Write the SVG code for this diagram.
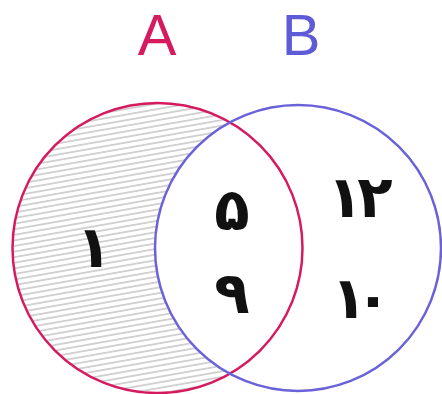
<svg xmlns="http://www.w3.org/2000/svg" width="442" height="394" viewBox="0 0 442 394">
  <style>
    .title { font-family: "Liberation Sans", Arial, sans-serif; font-size: 58px; text-anchor: middle; }
    .num { font-family: "DejaVu Sans", sans-serif; font-weight: bold; font-size: 58px; text-anchor: middle; fill: #111; }
    .ring { fill: none; stroke-width: 2.5; }
  </style>
  <defs>
    <pattern id="hatch" patternUnits="userSpaceOnUse" width="12" height="5.5" patternTransform="rotate(-10)">
      <line x1="0" y1="2.75" x2="12" y2="2.75" stroke="#a8a8a8" stroke-width="1"/>
    </pattern>
  </defs>
  <rect width="442" height="394" fill="#ffffff"/>
  <g id="shading">
    <path d="M 229.8 122.3 A 145 145 0 1 0 229.8 373.7 A 143 143 0 0 1 229.8 122.3 Z" fill="url(#hatch)"/>
  </g>
  <g id="setA">
    <circle class="ring" cx="157.5" cy="248" r="145" stroke="#d61a5f"/>
    <text class="title" x="157" y="55" fill="#d61a5f">A</text>
  </g>
  <g id="setB">
    <circle class="ring" cx="298" cy="248" r="143" stroke="#6a62d8"/>
    <text class="title" x="301" y="55" fill="#5f5bd6">B</text>
  </g>
  <g id="elements">
    <text class="num" x="94" y="267">۱</text>
    <text class="num" x="232" y="230">۵</text>
    <text class="num" x="232" y="313">۹</text>
    <text class="num" y="217"><tspan x="345">۱</tspan><tspan x="375">۲</tspan></text>
    <text class="num" y="318"><tspan x="349">۱</tspan><tspan x="373">۰</tspan></text>
  </g>
</svg>
